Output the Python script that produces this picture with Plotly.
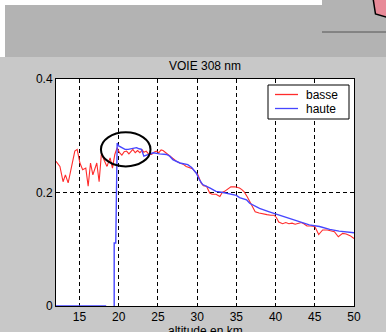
import plotly.graph_objects as go

# Altitude profiles, channel 308 nm
alt_basse = [12.0, 12.5, 12.9, 13.2, 13.55, 13.9, 14.4, 14.7, 15.05, 15.4, 15.8, 16.1, 16.4, 16.7,
             17.2, 17.5, 17.8, 18.1, 18.5, 18.9, 19.2, 19.5, 19.8, 20.1, 20.4, 20.7, 21.0, 21.3,
             21.6, 21.8, 22.1, 22.4, 22.7, 23.0, 23.2, 23.5, 23.8, 24.2, 24.5, 24.8, 25.1, 25.4,
             25.65, 26.0, 26.5, 27.0, 27.35, 27.8, 28.2, 28.6, 29.0, 29.4, 29.7, 30.1, 30.5, 30.8,
             31.2, 31.6, 31.9, 32.4, 32.9, 33.2, 33.5, 33.9, 34.3, 34.8, 35.4, 35.7, 36.0, 36.4,
             36.7, 37.1, 37.4, 37.9, 38.4, 38.9, 39.4, 39.8, 40.1, 40.4, 40.9, 41.3, 41.7, 42.1,
             42.5, 42.9, 43.3, 43.6, 44.0, 44.5, 45.0, 45.5, 46.0, 46.6, 47.1, 47.5, 48.0, 48.55,
             49.0, 49.5, 50.0]
val_basse = [0.255, 0.246, 0.219, 0.231, 0.217, 0.240, 0.273, 0.276, 0.252, 0.240, 0.243, 0.211, 0.252, 0.231,
             0.252, 0.219, 0.270, 0.258, 0.246, 0.261, 0.243, 0.267, 0.279, 0.270, 0.266, 0.272, 0.273, 0.268,
             0.274, 0.276, 0.270, 0.274, 0.270, 0.275, 0.271, 0.273, 0.268, 0.267, 0.271, 0.273, 0.270, 0.275,
             0.274, 0.270, 0.264, 0.258, 0.255, 0.252, 0.250, 0.246, 0.244, 0.242, 0.237, 0.231, 0.217, 0.212,
             0.211, 0.199, 0.197, 0.197, 0.193, 0.200, 0.202, 0.206, 0.210, 0.210, 0.208, 0.205, 0.201, 0.192,
             0.184, 0.174, 0.166, 0.164, 0.162, 0.161, 0.160, 0.160, 0.156, 0.148, 0.145, 0.147, 0.145, 0.146,
             0.144, 0.146, 0.147, 0.145, 0.141, 0.141, 0.140, 0.126, 0.134, 0.134, 0.132, 0.131, 0.122, 0.128,
             0.127, 0.124, 0.119]

alt_haute = [12.0, 18.4, None, 19.42, 19.42, 19.62, 19.7, 19.8, 20.0, 20.36, 20.8, 21.2, 21.8, 22.27,
             22.6, 22.9, 23.2, 23.7, 24.4, 25.2, 26.1, 26.5, 26.9, 27.8, 28.8, 29.3, 29.9, 30.3,
             30.7, 31.6, 32.4, 33.3, 34.1, 35.0, 35.4, 36.3, 36.7, 37.95, 39.2, 40.5, 41.8, 43.0,
             44.3, 45.6, 46.9, 48.1, 50.0]
val_haute = [0.0, 0.0, None, 0.0, 0.111, 0.111, 0.27, 0.287, 0.282, 0.279, 0.276, 0.276, 0.277, 0.279,
             0.277, 0.276, 0.264, 0.267, 0.270, 0.268, 0.267, 0.264, 0.258, 0.252, 0.249, 0.244, 0.234, 0.222,
             0.214, 0.208, 0.202, 0.200, 0.198, 0.195, 0.191, 0.187, 0.181, 0.172, 0.166, 0.160, 0.154, 0.148,
             0.143, 0.140, 0.135, 0.132, 0.129]

x_ticks = [15, 20, 25, 30, 35, 40, 45, 50]
y_ticks = [0, 0.2, 0.4]
y_ticktext = ["0", "0.2", "0.4"]

name_basse = "basse"
name_haute = "haute"
color_basse = "#ff2b2b"
color_haute = "#4646ff"

FONT = "Liberation Sans, Arial, sans-serif"

fig = go.Figure()
fig.add_trace(go.Scatter(x=alt_basse, y=val_basse, mode="lines", name=name_basse,
                         line=dict(color=color_basse, width=1.1), connectgaps=False))
fig.add_trace(go.Scatter(x=alt_haute, y=val_haute, mode="lines", name=name_haute,
                         line=dict(color=color_haute, width=1.4), connectgaps=False))


def px_x(p):
    # pixel column -> paper x (plot area spans 56..354)
    return (p - 56) / 298.0


def px_y(p):
    # pixel row -> paper y (plot area spans 79..306)
    return (306 - p) / 227.0


shapes = [
    # window chrome behind the axes
    dict(type="rect", xref="paper", yref="paper", x0=px_x(0), x1=px_x(386), y0=px_y(57), y1=px_y(0),
         fillcolor="#b3b3b3", line=dict(width=0), layer="below"),
    dict(type="rect", xref="paper", yref="paper", x0=px_x(0), x1=px_x(322), y0=px_y(5), y1=px_y(0),
         fillcolor="#ffffff", line=dict(width=0), layer="below"),
    dict(type="rect", xref="paper", yref="paper", x0=px_x(0), x1=px_x(5), y0=px_y(57), y1=px_y(0),
         fillcolor="#ffffff", line=dict(width=0), layer="below"),
    dict(type="line", xref="paper", yref="paper", x0=px_x(322), x1=px_x(386), y0=px_y(32), y1=px_y(32),
         line=dict(color="#555555", width=1)),
    dict(type="path", xref="paper", yref="paper",
         path="M {:.4f} {:.4f} L {:.4f} {:.4f} L {:.4f} {:.4f} L {:.4f} {:.4f} Z".format(
             px_x(373), px_y(-2), px_x(375.5), px_y(14), px_x(388), px_y(17.5), px_x(388), px_y(-2)),
         fillcolor="#e88a98", line=dict(color="#000000", width=1.5)),
    # highlighted region around the onset of the upper channel
    dict(type="circle", xref="x", yref="y", x0=17.73, x1=24.05, y0=0.246, y1=0.306,
         line=dict(color="#000000", width=2), layer="above"),
    # legend box
    dict(type="rect", xref="paper", yref="paper", x0=px_x(268), x1=px_x(349), y0=px_y(119), y1=px_y(85),
         fillcolor="#ffffff", line=dict(color="#000000", width=1), layer="above"),
    dict(type="line", xref="paper", yref="paper", x0=px_x(275), x1=px_x(298), y0=px_y(94.5), y1=px_y(94.5),
         line=dict(color=color_basse, width=1.3), layer="above"),
    dict(type="line", xref="paper", yref="paper", x0=px_x(275), x1=px_x(298), y0=px_y(108.5), y1=px_y(108.5),
         line=dict(color=color_haute, width=1.3), layer="above"),
]

text_font = dict(family=FONT, size=12, color="#000000")
annotations = [
    dict(text=name_basse, xref="paper", yref="paper", x=px_x(304), y=px_y(94.5), xanchor="left",
         yanchor="middle", showarrow=False, font=text_font),
    dict(text=name_haute, xref="paper", yref="paper", x=px_x(304), y=px_y(108.5), xanchor="left",
         yanchor="middle", showarrow=False, font=text_font),
    # x-axis caption, placed below the tick labels
    dict(text="altitude en km", xref="paper", yref="paper", x=0.5, y=px_y(322), xanchor="center",
         yanchor="top", showarrow=False, font=text_font),
]

grid = dict(showgrid=True, gridcolor="#000000", gridwidth=1, griddash="4px,3px",
            showline=True, linecolor="#000000", linewidth=1, mirror=True,
            zeroline=False, ticks="", layer="below traces",
            tickfont=text_font)

fig.update_layout(
    width=386, height=332,
    margin=dict(l=56, r=32, t=79, b=26, pad=0),
    paper_bgcolor="#c8c8c8",
    plot_bgcolor="#ffffff",
    showlegend=False,
    title=dict(text="VOIE 308 nm", x=0.5, xref="paper", xanchor="center",
               y=1 - 66 / 332, yref="container", yanchor="middle",
               font=text_font),
    xaxis=dict(range=[12, 50], tickvals=x_ticks, automargin=False, **grid),
    yaxis=dict(range=[0, 0.4], tickvals=y_ticks, ticktext=y_ticktext, automargin=False, **grid),
    shapes=shapes,
    annotations=annotations,
)

fig.write_html("out.html")
